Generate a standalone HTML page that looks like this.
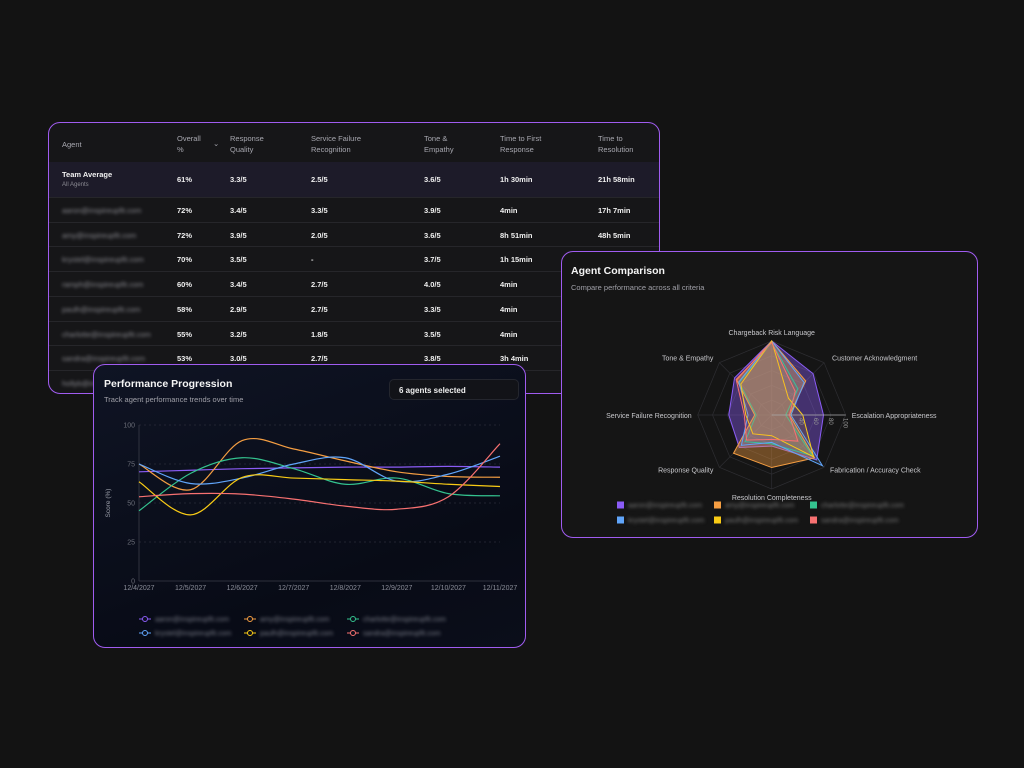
<!DOCTYPE html>
<html><head><meta charset="utf-8">
<style>
*{margin:0;padding:0;box-sizing:border-box}
body{width:1024px;height:768px;background:#131313;position:relative;overflow:hidden;font-family:"Liberation Sans",sans-serif;color:#e5e5e5}
.card{position:absolute;border:1.5px solid #a05cf0;border-radius:12px;overflow:hidden}
#table{left:48px;top:122px;width:612px;height:272px;background:#161618}
.cell{position:absolute;font-size:7.5px;color:#f0f0f0;white-space:nowrap}
.hd{color:#a8a8b0;line-height:11px}
.row{position:absolute;left:0;width:100%;border-top:1px solid #26262a}
.blur{filter:blur(1.6px);color:#8a8a90}
#perf{left:93px;top:364px;width:433px;height:284px;background:linear-gradient(160deg,#0f1424,#080b16 70%,#0b0e1a)}
#radar{left:561px;top:251px;width:417px;height:287px;background:#151515}
.ttl{position:absolute;font-size:10.5px;font-weight:bold;color:#f5f5f5}
.sub{position:absolute;font-size:7.5px;color:#a0a0a8}
</style></head><body>

<div id="table" class="card">
  <div class="row" style="top:39px;height:35px;background:#1d1b29;border-top:none"></div>
  <div id="rows"></div>
</div>

<div id="radar" class="card">
  <div class="ttl" style="left:9px;top:13px">Agent Comparison</div>
  <div class="sub" style="left:9px;top:31px">Compare performance across all criteria</div>
  <svg id="rsvg" width="417" height="287" style="position:absolute;left:0;top:0"></svg>
</div>

<div id="perf" class="card">
  <div class="ttl" style="left:10px;top:13px">Performance Progression</div>
  <div class="sub" style="left:10px;top:30px">Track agent performance trends over time</div>
  <div style="position:absolute;left:295px;top:14px;width:130px;height:21px;background:#121318;border:1px solid #24262e;border-radius:5px;font-size:8px;font-weight:bold;color:#f0f0f0;padding:6px 9px">6 agents selected</div>
  <svg id="lsvg" width="433" height="284" style="position:absolute;left:0;top:0"></svg>
</div>

<script>
const NS="http://www.w3.org/2000/svg";
function mk(tag,attrs,parent){const e=document.createElementNS(NS,tag);for(const k in attrs)e.setAttribute(k,attrs[k]);parent.appendChild(e);return e;}

/* ---------- table ---------- */
const headers=["Agent","Overall\n%","Response\nQuality","Service Failure\nRecognition","Tone &\nEmpathy","Time to First\nResponse","Time to\nResolution"];
const colX=[13,128,181,262,375,451,549];
const agents=["aaron@inspireupfit.com","amy@inspireupfit.com","krystel@inspireupfit.com","ramph@inspireupfit.com","paulh@inspireupfit.com","charlotte@inspireupfit.com","sandra@inspireupfit.com","hollyb@inspireupfit.com"];
const tableRows=[
 ["72%","3.4/5","3.3/5","3.9/5","4min","17h 7min"],
 ["72%","3.9/5","2.0/5","3.6/5","8h 51min","48h 5min"],
 ["70%","3.5/5","-","3.7/5","1h 15min",""],
 ["60%","3.4/5","2.7/5","4.0/5","4min",""],
 ["58%","2.9/5","2.7/5","3.3/5","4min",""],
 ["55%","3.2/5","1.8/5","3.5/5","4min",""],
 ["53%","3.0/5","2.7/5","3.8/5","3h 4min",""],
 ["","","","","",""]];
const tb=document.getElementById('table');
headers.forEach((h,i)=>{const d=document.createElement('div');d.className='cell hd';d.style.left=colX[i]+'px';d.style.top=(h.includes('\n')?10:16)+'px';d.innerHTML=h.replace('\n','<br>');


tb.appendChild(d);});
const chev=document.createElement('div');chev.className='cell hd';chev.style.left='164px';chev.style.top='15px';chev.textContent='⌄';


tb.appendChild(chev);
const avg=["61%","3.3/5","2.5/5","3.6/5","1h 30min","21h 58min"];
let t=document.createElement('div');t.className='cell';t.style.cssText='left:13px;top:47px;font-weight:bold;font-size:7.5px';t.textContent='Team Average';


tb.appendChild(t);
t=document.createElement('div');t.className='cell';t.style.cssText='left:13px;top:59px;font-size:6px;color:#8a8a92';t.textContent='All Agents';


tb.appendChild(t);
avg.forEach((v,i)=>{const d=document.createElement('div');d.className='cell';d.style.cssText=`left:${colX[i+1]}px;top:52px;font-weight:bold`;d.textContent=v;


tb.appendChild(d);});
tableRows.forEach((r,j)=>{const top=74+j*24.7;
 const rw=document.createElement('div');rw.className='row';rw.style.top=top+'px';rw.style.height='25px';
 
 
 tb.appendChild(rw);
 const a=document.createElement('div');a.className='cell blur';a.style.cssText=`left:13px;top:${top+9}px`;a.textContent=agents[j];
 
 
 tb.appendChild(a);
 r.forEach((v,i)=>{const d=document.createElement('div');d.className='cell';d.style.cssText=`left:${colX[i+1]}px;top:${top+9}px;font-weight:bold`;d.textContent=v;
 
 
 tb.appendChild(d);});
});

/* ---------- line chart ---------- */
const dates=["12/4/2027","12/5/2027","12/6/2027","12/7/2027","12/8/2027","12/9/2027","12/10/2027","12/11/2027"];
const yTicks=[0,25,50,75,100];
const colors=["#8b5cf6","#f59e42","#34c38f","#60a5fa","#facc15","#f87171"];
const sPurple=[70,71,72,72.5,73,73,73.5,73];
const sOrange=[75,58.5,90,84.6,77,70,67,66.5];
const sGreen=[45,69,79,72,62,66,56,54.6];
const sBlue=[75,62.5,66,75,79,64,68.5,80];
const sYellow=[63.6,42.4,66.4,66,65,64,62,60.6];
const sRed=[54,56,55.7,52.5,48,46,54,88];
const series=[sPurple,sOrange,sGreen,sBlue,sYellow,sRed];
const L=document.getElementById('lsvg');
const X0=45,X1=406,Y0=216,Y1=60;
const xs=i=>X0+(X1-X0)*i/(dates.length-1);
const ys=v=>Y0-(Y0-Y1)*v/100;
yTicks.forEach(v=>{
 const g=mk('line',{x1:X0,x2:X1,y1:ys(v),y2:ys(v),stroke:v?'#2a2d3a':'#3a3d48','stroke-dasharray':v?'2 3':'',"stroke-width":0.7},L);
 
 
 const tx=mk('text',{x:X0-4,y:ys(v)+2.5,'text-anchor':'end','font-size':7,fill:'#6b6e78'},L);tx.textContent=v;
 
 
});
const ax=mk('line',{x1:X0,x2:X0,y1:Y1,y2:Y0,stroke:'#3a3d48','stroke-width':0.8},L);


dates.forEach((d,i)=>{const tx=mk('text',{x:xs(i),y:Y0+9,'text-anchor':'middle','font-size':7,fill:'#8a8d98'},L);tx.textContent=d;
 
 });
const yt=mk('text',{x:0,y:0,transform:`translate(16,${(Y0+Y1)/2}) rotate(-90)`,'text-anchor':'middle','font-size':6.5,fill:'#9a9da8'},L);yt.textContent='Score (%)';


function smooth(pts){let d=`M${pts[0][0]},${pts[0][1]}`;for(let i=0;i<pts.length-1;i++){const p0=pts[i-1]||pts[i],p1=pts[i],p2=pts[i+1],p3=pts[i+2]||p2;
 d+=` C${p1[0]+(p2[0]-p0[0])/6},${p1[1]+(p2[1]-p0[1])/6} ${p2[0]-(p3[0]-p1[0])/6},${p2[1]-(p3[1]-p1[1])/6} ${p2[0]},${p2[1]}`;}return d;}
series.forEach((s,k)=>{const p=mk('path',{d:smooth(s.map((v,i)=>[xs(i),ys(v)])),fill:'none',stroke:colors[k],'stroke-width':1.2},L);
 
 });
const legendX=[45,150,253];
series.forEach((s,k)=>{const x=legendX[k%3],y=k<3?254:268;
 const g=mk('g',{},L);
 
 
 mk('line',{x1:x,x2:x+12,y1:y,y2:y,stroke:colors[k],'stroke-width':1},g);
 mk('circle',{cx:x+6,cy:y,r:2.5,fill:'#0b0e1a',stroke:colors[k],'stroke-width':1},g);
 const tx=mk('text',{x:x+16,y:y+2.5,'font-size':7,fill:'#777a85',style:'filter:blur(1.5px)'},g);tx.textContent=agents[[0,1,5,2,4,6][k]];
});

/* ---------- radar ---------- */
const axesLabels=["Chargeback Risk Language","Customer Acknowledgment","Escalation Appropriateness","Fabrication / Accuracy Check","Resolution Completeness","Response Quality","Service Failure Recognition","Tone & Empathy"];
const rPurple=[100,79,70,86,42,62,58,71];
const rOrange=[100,65,24,82,71,73,23,67];
const rGreen=[98,50,19,78,39,51,21,62];
const rBlue=[100,62,26,97,37,58,32,63];
const rYellow=[100,32,42,80,28,36,35,59];
const rRed=[98,45,24,50,33,48,37,68];
const rSeries=[rPurple,rOrange,rGreen,rBlue,rYellow,rRed];
const rFill=[0.4,0.4,0.1,0.12,0.1,0.12];
const R=document.getElementById('rsvg');
const CX=209.7,CY=163,RAD=74;
const pt=(i,v)=>{const a=-Math.PI/2+i*Math.PI/4;return [CX+RAD*v/100*Math.cos(a),CY+RAD*v/100*Math.sin(a)];};
[20,40,60,80,100].forEach(v=>{const p=mk('polygon',{points:axesLabels.map((_,i)=>pt(i,v).join(',')).join(' '),fill:'none',stroke:'#2e2e32','stroke-width':0.7},R);
 
 });
axesLabels.forEach((l,i)=>{const e=pt(i,100);const sp=mk('line',{x1:CX,y1:CY,x2:e[0],y2:e[1],stroke:'#2e2e32','stroke-width':0.7},R);
 
 });
rSeries.forEach((s,k)=>{const p=mk('polygon',{points:s.map((v,i)=>pt(i,v).join(',')).join(' '),fill:colors[k],'fill-opacity':rFill[k],stroke:colors[k],'stroke-width':1},R);
 
 });
const rax=mk('line',{x1:CX,y1:CY,x2:CX+RAD,y2:CY,stroke:'#aaa','stroke-width':0.8},R);


[40,60,80,100].forEach(v=>{const tx=mk('text',{x:0,y:0,transform:`translate(${CX+RAD*v/100-2},${CY+3}) rotate(90)`,'font-size':6,fill:'#999'},R);tx.textContent=v;
 
 });
const lblPos=[[0,-6,'middle'],[8,-2,'start'],[6,3,'start'],[6,5,'start'],[0,11,'middle'],[-6,5,'end'],[-6,3,'end'],[-6,-2,'end']];
axesLabels.forEach((l,i)=>{const e=pt(i,100);const tx=mk('text',{x:e[0]+lblPos[i][0],y:e[1]+lblPos[i][1],'text-anchor':lblPos[i][2],'font-size':7,fill:'#c8c8cc'},R);tx.textContent=l;
 
 });
const rLegX=[55,152,248];
rSeries.forEach((s,k)=>{const x=rLegX[k%3],y=k<3?253:268;
 const g=mk('g',{},R);
 
 
 mk('rect',{x:x,y:y-3.5,width:7,height:7,fill:colors[k]},g);
 const tx=mk('text',{x:x+11,y:y+2.5,'font-size':7,fill:'#777',style:'filter:blur(1.5px)'},g);tx.textContent=agents[[0,1,5,2,4,6][k]];
});
</script>
</body></html>
